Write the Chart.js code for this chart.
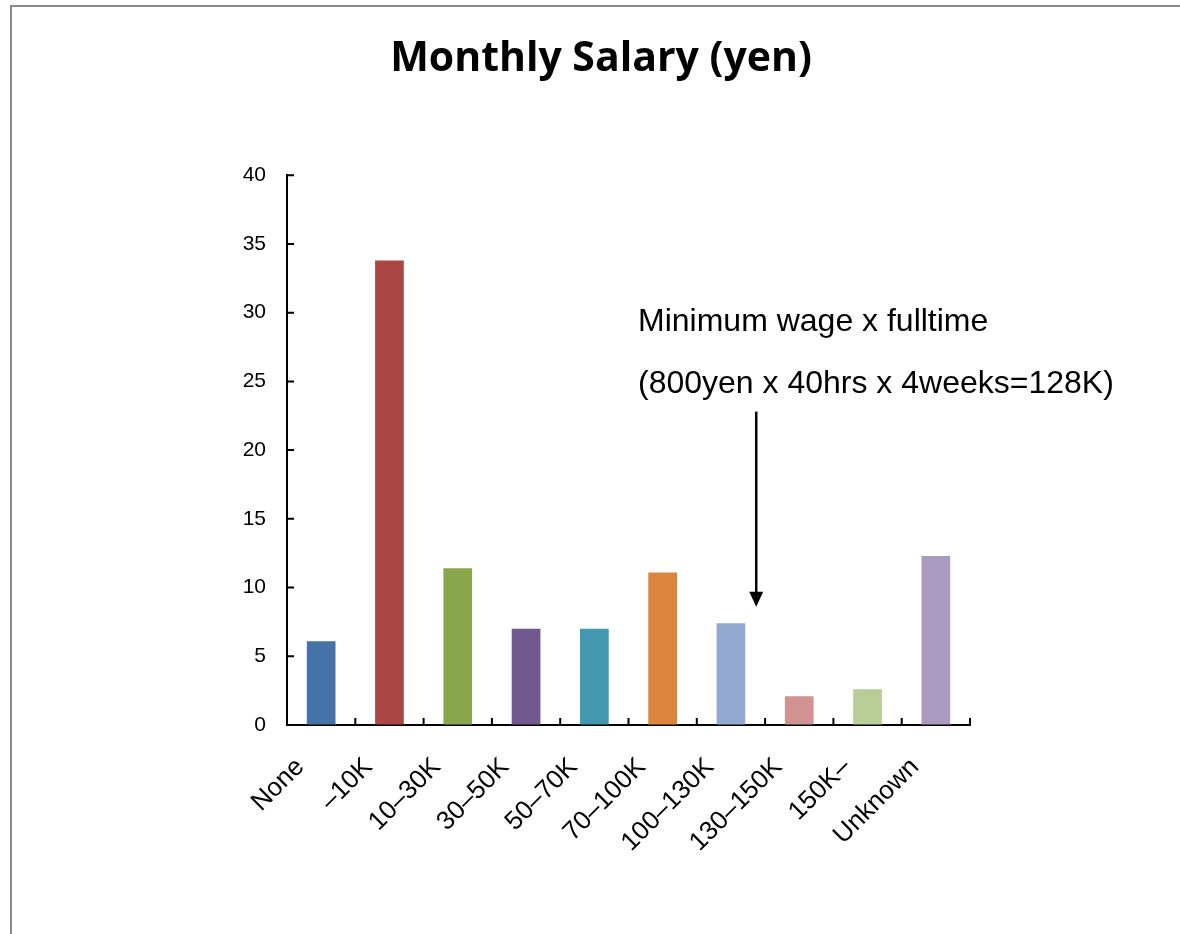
<!DOCTYPE html>
<html>
<head>
<meta charset="utf-8">
<script src="https://cdn.jsdelivr.net/npm/chart.js@4.4.1/dist/chart.umd.min.js"></script>
<style>
  html, body { margin: 0; padding: 0; background: #fff; overflow: hidden; }
  #frame {
    position: absolute; left: 10px; top: 5px; width: 1200px; height: 960px;
    border-top: 2px solid #8a8a8a; border-left: 2px solid #8a8a8a;
  }
  #wrap { position: absolute; left: 0; top: 0; width: 1180px; height: 934px; }
</style>
</head>
<body>
<div id="frame"></div>
<div id="wrap"><canvas id="salaryChart"></canvas></div>
<script>
const categories = ["None", "\u201310K", "10\u201330K", "30\u201350K", "50\u201370K",
  "70\u2013100K", "100\u2013130K", "130\u2013150K", "150K\u2013", "Unknown"];
const shares = [6.1, 33.8, 11.4, 7.0, 7.0, 11.1, 7.4, 2.1, 2.6, 12.3];
const barColors = ["#4572a7", "#aa4643", "#89a54e", "#71588f", "#4198af",
  "#db843d", "#93a9cf", "#d19392", "#b9cd96", "#a99bbd"];
const yMin = 0, yMax = 40, yStep = 5;

// arrow: category position (between 100-130K and 130-150K) and value range
const noteLines = ["Minimum wage x fulltime", "(800yen x 40hrs x 4weeks=128K)"];
const arrowAt = 6.37;
const arrowFrom = 22.8;
const arrowTo = 8.6;

const innerTicks = {
  id: "innerTicks",
  afterDatasetsDraw(chart) {
    const { ctx, chartArea, scales: { x, y } } = chart;
    ctx.save();
    ctx.strokeStyle = "#000";
    ctx.lineWidth = 2;
    ctx.beginPath();
    y.ticks.forEach((t, i) => {
      const py = y.getPixelForTick(i);
      ctx.moveTo(chartArea.left, py);
      ctx.lineTo(chartArea.left + 7, py);
    });
    for (let i = 0; i <= categories.length; i++) {
      const px = x.getPixelForValue(i - 0.5);
      ctx.moveTo(px, chartArea.bottom);
      ctx.lineTo(px, chartArea.bottom - 7);
    }
    ctx.stroke();
    ctx.restore();
  }
};

const note = {
  id: "note",
  afterDraw(chart) {
    const { ctx, chartArea, scales: { x, y } } = chart;
    ctx.save();
    ctx.fillStyle = "#000";
    ctx.font = "32px 'Liberation Sans', Arial, sans-serif";
    ctx.textBaseline = "middle";
    ctx.textAlign = "left";
    ctx.fillText(noteLines[0], chartArea.left + 351, chartArea.top + 147);
    ctx.fillText(noteLines[1], chartArea.left + 351, chartArea.top + 209);

    const step = x.getPixelForValue(7) - x.getPixelForValue(6);
    const ax = x.getPixelForValue(6) + (arrowAt - 6) * step;
    const y0 = y.getPixelForValue(arrowFrom);
    const y1 = y.getPixelForValue(arrowTo);
    ctx.strokeStyle = "#000";
    ctx.lineWidth = 2.5;
    ctx.beginPath();
    ctx.moveTo(ax, y0);
    ctx.lineTo(ax, y1 - 12);
    ctx.stroke();
    ctx.beginPath();
    ctx.moveTo(ax - 7, y1 - 15);
    ctx.lineTo(ax + 7, y1 - 15);
    ctx.lineTo(ax, y1);
    ctx.closePath();
    ctx.fill();
    ctx.restore();
  }
};

const ctx = document.getElementById("salaryChart");
// eslint-disable-next-line no-unused-vars
const salaryChart = new Chart(ctx, {
  type: "bar",
  data: {
    labels: categories,
    datasets: [
      {
        label: "Monthly salary",
        data: shares,
        backgroundColor: barColors,
        borderWidth: 0,
        barPercentage: 0.42,
        categoryPercentage: 1,
      },
    ],
  },
  options: {
    responsive: true,
    maintainAspectRatio: false,
    animation: false,
    layout: { padding: { top: 0, left: 22, right: 0, bottom: 59 } },
    plugins: {
      legend: { display: false },
      tooltip: { enabled: false },
      title: {
        display: true,
        text: "Monthly Salary (yen)",
        color: "#000",
        font: { family: "'Open Sans', sans-serif", size: 41, weight: "bold", lineHeight: 1.2 },
        padding: { top: 35, bottom: 91 },
      },
    },
    scales: {
      x: {
        grid: { display: true, drawOnChartArea: false, drawTicks: false },
        border: { display: true, color: "#000", width: 2 },
        ticks: {
          color: "#000",
          maxRotation: 45,
          minRotation: 45,
          autoSkip: false,
          padding: 27,
          labelOffset: -21,
          font: { family: "'Liberation Sans', Arial, sans-serif", size: 26 },
        },
        afterFit(scale) { scale.height = 150; },
      },
      y: {
        min: yMin,
        max: yMax,
        grid: { display: true, drawOnChartArea: false, drawTicks: false },
        border: { display: true, color: "#000", width: 2 },
        ticks: {
          stepSize: yStep,
          color: "#000",
          padding: 21,
          font: { family: "'Liberation Sans', Arial, sans-serif", size: 21 },
        },
        afterFit(scale) { scale.width = 265; },
      },
      // empty right-hand space, keeps the plot where it sits in the original
      spacer: {
        position: "right",
        min: yMin,
        max: yMax,
        grid: { display: false },
        border: { display: false },
        ticks: { display: false },
        afterFit(scale) { scale.width = 210; },
      },
    },
  },
  plugins: [innerTicks, note],
});
</script>
</body>
</html>
